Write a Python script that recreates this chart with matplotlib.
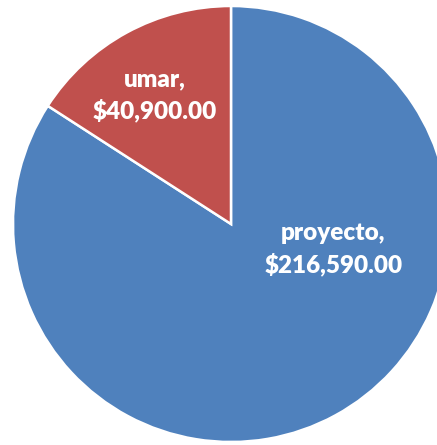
import matplotlib
matplotlib.use("Agg")
from matplotlib import pyplot as plt

categories = ["proyecto", "umar"]
values = [216590.00, 40900.00]
colors = ["#4F81BD", "#C0504D"]
# label anchor positions (data coords, pie radius = 1)
label_pos = [(0.47, -0.115), (-0.35, 0.59)]

fig = plt.figure(figsize=(4.37, 4.45), dpi=100)
ax = fig.add_axes([0, 0, 1, 1])

wedges, _ = ax.pie(values, colors=colors, startangle=90, counterclock=False,
                   radius=1.0, wedgeprops=dict(edgecolor="white", linewidth=1.8))

for name, val, (x, y) in zip(categories, values, label_pos):
    ax.text(x, y, f"{name},\n${val:,.2f}", ha="center", va="center",
            color="white", fontsize=17.5, fontweight="heavy", family="Lato",
            linespacing=1.42)

ax.set_xlim(-1.0596, 0.945)
ax.set_ylim(-1.0138, 1.0275)
ax.set_aspect("equal", adjustable="box")
ax.axis("off")

fig.savefig("out.png", dpi=100, facecolor="white")
